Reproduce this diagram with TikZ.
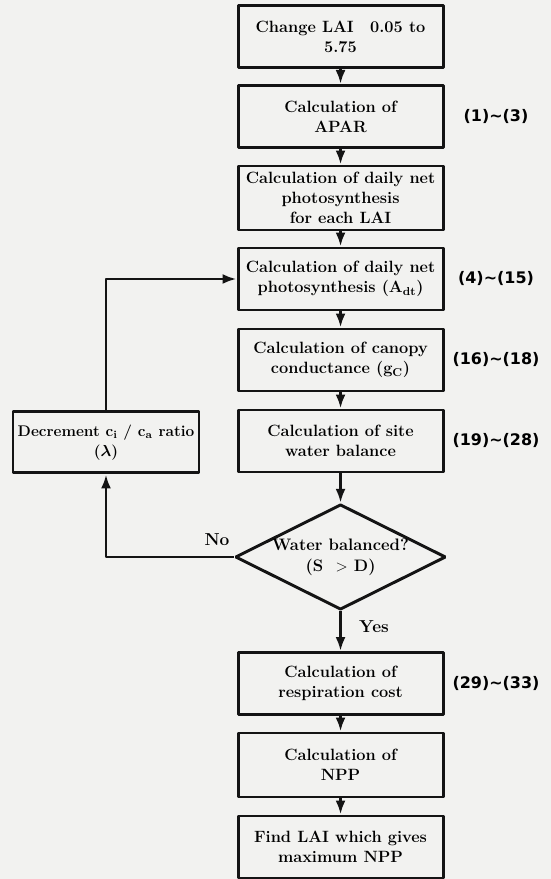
\documentclass[tikz,border=0pt]{standalone}
\usepackage{fontspec}
\usepackage{amsmath}
\usepackage{tikz}
\usetikzlibrary{arrows.meta, shapes, positioning}
\newfontfamily\eqfont{DejaVu Sans}
\definecolor{paper}{rgb}{0.95,0.95,0.94}
\definecolor{ink}{rgb}{0.08,0.08,0.08}
\tikzset{
  calcbox/.style={draw, rectangle, line width=2.2bp, minimum width=153.75bp, minimum height=46.5bp,
    inner sep=0pt, align=center, font=\fontsize{12.3}{15}\selectfont\bfseries},
  testbox/.style={draw, diamond, aspect=2, line width=2.2bp, minimum width=153.75bp, minimum height=78bp,
    inner sep=0pt, align=center, font=\fontsize{12.5}{16}\selectfont\bfseries},
  eqlabel/.style={font=\eqfont\bfseries\fontsize{12}{14}\selectfont},
  answer/.style={font=\fontsize{13}{15}\selectfont\bfseries},
  flow/.style={->, line width=2.2bp},
}

\begin{document}
\begin{tikzpicture}[>={Latex[length=10.5bp,width=7.5bp]},line join=bevel]
  \pgfsetlinewidth{2.2bp}
  \useasboundingbox (0bp,0bp) rectangle (413.25bp,659.25bp);
  \fill [paper] (0bp,0bp) rectangle (413.25bp,659.25bp);
%%
\pgfsetcolor{ink}
  % Node: change
  \node [calcbox] (change) at (255.4bp,631.9bp) {Change LAI\quad 0.05 to\\5.75};
  % Node: apar
  \node [calcbox] (apar) at (255.4bp,571.9bp) {Calculation of\\APAR};
  % Node: daily
  \node [calcbox,minimum height=48bp] (daily) at (255.4bp,510.75bp) {Calculation of daily net\\photosynthesis\\for each LAI};
  % Node: adt
  \node [calcbox] (adt) at (255.4bp,450bp) {Calculation of daily net\\photosynthesis (A\textsubscript{dt})};
  % Node: canopy
  \node [calcbox] (canopy) at (255.4bp,389.25bp) {Calculation of canopy\\conductance (g\textsubscript{C})};
  % Node: site
  \node [calcbox] (site) at (255.4bp,328.5bp) {Calculation of site\\water balance};
  % Node: balanced
  \node [testbox] (balanced) at (255.4bp,241.5bp) {Water balanced?\\(S\ \ $>$ D)};
  % Node: decrement
  \node [calcbox,minimum width=139.5bp,minimum height=45.75bp,font=\fontsize{11.6}{15}\selectfont\bfseries] (decrement) at (79.5bp,327.4bp) {Decrement c\textsubscript{i} / c\textsubscript{a} ratio\\($\boldsymbol{\lambda}$)};
  % Node: resp
  \node [calcbox] (resp) at (255.4bp,146.6bp) {Calculation of\\respiration cost};
  % Node: npp
  \node [calcbox,minimum height=48bp] (npp) at (255.4bp,85.5bp) {Calculation of\\NPP};
  % Node: maxnpp
  \node [calcbox] (maxnpp) at (255.4bp,24bp) {Find LAI which gives\\maximum NPP};
  % equation numbers
  \node [eqlabel] (eqapar) at (372bp,571.9bp) {(1)∼(3)};
  \node [eqlabel] (eqadt) at (372bp,450bp) {(4)∼(15)};
  \node [eqlabel] (eqcanopy) at (372bp,389.25bp) {(16)∼(18)};
  \node [eqlabel] (eqsite) at (372bp,328.5bp) {(19)∼(28)};
  \node [eqlabel] (eqresp) at (372bp,146.6bp) {(29)∼(33)};
  \node [answer] (no) at (162.75bp,254.25bp) {No};
  \node [answer] (yes) at (280.5bp,189bp) {Yes};
  % Edge: change -- apar
  \draw [flow] (change) -- (apar);
  % Edge: apar -- daily
  \draw [flow] (apar) -- (daily);
  % Edge: daily -- adt
  \draw [flow] (daily) -- (adt);
  % Edge: adt -- canopy
  \draw [flow] (adt) -- (canopy);
  % Edge: canopy -- site
  \draw [flow] (canopy) -- (site);
  % Edge: site -- balanced
  \draw [flow] (site) -- (balanced);
  % Edge: balanced -- decrement
  \draw [flow] (balanced.west) -| (decrement.south);
  % Edge: decrement -- adt
  \draw [flow] (decrement.north) |- (adt.west);
  % Edge: balanced -- resp
  \draw [flow] (balanced) -- (resp);
  % Edge: resp -- npp
  \draw [flow] (resp) -- (npp);
  % Edge: npp -- maxnpp
  \draw [flow] (npp) -- (maxnpp);
%
\end{tikzpicture}
\end{document}
